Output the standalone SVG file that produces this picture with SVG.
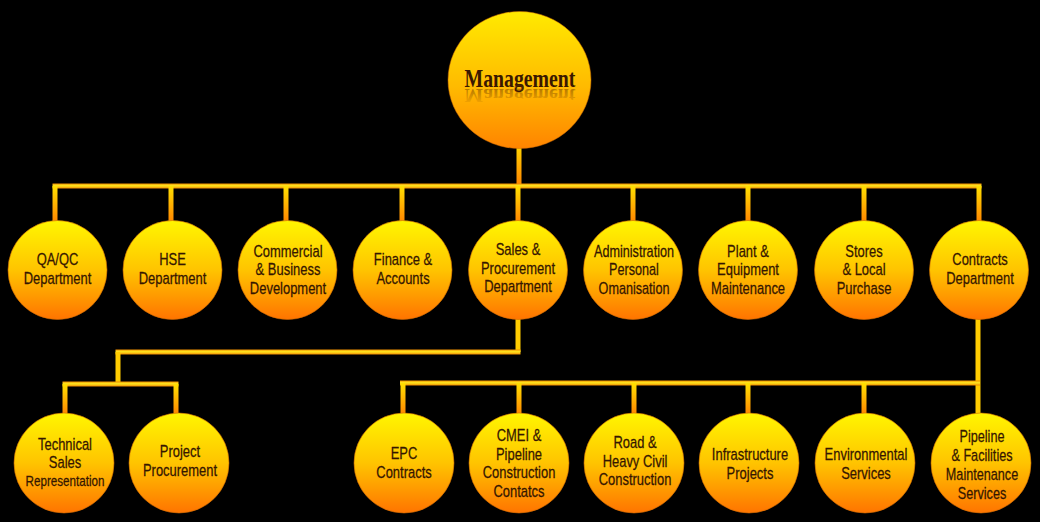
<svg xmlns="http://www.w3.org/2000/svg" width="1040" height="522" viewBox="0 0 1040 522">
  <defs>
    <linearGradient id="ball" x1="0" y1="0" x2="0" y2="1">
      <stop offset="0" stop-color="#fff600"/>
      <stop offset="0.5" stop-color="#ffc400"/>
      <stop offset="1" stop-color="#ff7400"/>
    </linearGradient>
    <linearGradient id="bigBall" x1="0" y1="0" x2="0" y2="1">
      <stop offset="0" stop-color="#ffea00"/>
      <stop offset="0.55" stop-color="#ffba00"/>
      <stop offset="1" stop-color="#ff8400"/>
    </linearGradient>
    <linearGradient id="hbar" x1="0" y1="0" x2="0" y2="1">
      <stop offset="0" stop-color="#f09000"/>
      <stop offset="0.45" stop-color="#ffe820"/>
      <stop offset="1" stop-color="#f08a00"/>
    </linearGradient>
    <linearGradient id="drop" x1="0" y1="0" x2="0" y2="1">
      <stop offset="0" stop-color="#ffe000"/>
      <stop offset="1" stop-color="#ff8200"/>
    </linearGradient>
    <linearGradient id="reflect" x1="0" y1="0" x2="0" y2="1">
      <stop offset="0" stop-color="#5a2a00" stop-opacity="0"/>
      <stop offset="1" stop-color="#5a2a00" stop-opacity="0.55"/>
    </linearGradient>
  </defs>
  <style>
    .node { fill: url(#ball); stroke: #d06a00; stroke-width: 1; stroke-opacity: 0.6; }
    .lbl { font-family: 'Liberation Sans', Arial, sans-serif; font-size: 15.8px; fill: #351600; stroke: #351600; stroke-width: 0.25; text-anchor: middle; }
    .sm { font-size: 14.2px; }
    .h { fill: url(#hbar); }
    .v { fill: url(#drop); }
    .title { font-family: 'Liberation Serif', 'DejaVu Serif', serif; font-weight: bold; font-size: 26px; text-anchor: middle; }
  </style>

  <rect width="1040" height="522" fill="#000"/>

  <!-- connectors -->
  <g id="connectors">
    <!-- management to top bus -->
    <rect class="v" x="516.5" y="140" width="5" height="46"/>
    <rect class="h" x="52.5" y="183.5" width="929" height="5"/>
    <!-- drops to department row -->
    <rect class="v" x="52.5" y="186" width="5" height="37"/>
    <rect class="v" x="168.5" y="186" width="5" height="37"/>
    <rect class="v" x="283.5" y="186" width="5" height="37"/>
    <rect class="v" x="399.5" y="186" width="5" height="37"/>
    <rect class="v" x="515.5" y="186" width="5" height="37"/>
    <rect class="v" x="630.5" y="186" width="5" height="37"/>
    <rect class="v" x="745.5" y="186" width="5" height="37"/>
    <rect class="v" x="861.5" y="186" width="5" height="37"/>
    <rect class="v" x="976.5" y="186" width="5" height="37"/>
    <!-- sales branch -->
    <rect class="h" x="515.5" y="310" width="5" height="42" style="fill:#ffcc00"/>
    <rect class="h" x="115.5" y="349.5" width="405" height="5"/>
    <rect class="h" x="115.5" y="352" width="5" height="32" style="fill:#ffcc00"/>
    <rect class="h" x="62.5" y="381.5" width="116" height="5"/>
    <rect class="v" x="62.5" y="384" width="5" height="32"/>
    <rect class="v" x="173.5" y="384" width="5" height="32"/>
    <!-- contracts branch -->
    <rect class="h" x="975.5" y="310" width="5" height="106" style="fill:#ffcc00"/>
    <rect class="h" x="400" y="380.5" width="580" height="5"/>
    <rect class="v" x="400.5" y="383" width="5" height="33"/>
    <rect class="v" x="516.5" y="383" width="5" height="33"/>
    <rect class="v" x="631.5" y="383" width="5" height="33"/>
    <rect class="v" x="745.5" y="383" width="5" height="33"/>
    <rect class="v" x="861.5" y="383" width="5" height="33"/>
  </g>

  <!-- top node -->
  <g id="management">
    <ellipse cx="519.5" cy="80" rx="71.5" ry="68.5" fill="url(#bigBall)" stroke="#d06a00" stroke-opacity="0.5"/>
    <text class="title" transform="translate(520,87) scale(0.76,1)" x="0" y="0" fill="#3a1800">Management</text>
    <text class="title" transform="translate(520,89) scale(0.76,-0.7)" x="0" y="0" fill="url(#reflect)">Management</text>
  </g>

  <!-- department row -->
  <g id="qaqc">
    <circle class="node" cx="57.5" cy="270" r="49.5"/>
    <text class="lbl" transform="translate(57.5,0) scale(0.82,1)"><tspan x="0" y="265">QA/QC</tspan><tspan x="0" y="284">Department</tspan></text>
  </g>
  <g id="hse">
    <circle class="node" cx="172.5" cy="270" r="49.5"/>
    <text class="lbl" transform="translate(172.5,0) scale(0.82,1)"><tspan x="0" y="265">HSE</tspan><tspan x="0" y="284">Department</tspan></text>
  </g>
  <g id="commercial">
    <circle class="node" cx="287.5" cy="270" r="49.5"/>
    <text class="lbl" transform="translate(288,0) scale(0.82,1)"><tspan x="0" y="257">Commercial</tspan><tspan x="0" y="275.5">&amp; Business</tspan><tspan x="0" y="294">Development</tspan></text>
  </g>
  <g id="finance">
    <circle class="node" cx="402.5" cy="270" r="49.5"/>
    <text class="lbl" transform="translate(403,0) scale(0.82,1)"><tspan x="0" y="265">Finance &amp;</tspan><tspan x="0" y="284">Accounts</tspan></text>
  </g>
  <g id="sales">
    <circle class="node" cx="518" cy="270" r="49.5"/>
    <text class="lbl" transform="translate(518,0) scale(0.82,1)"><tspan x="0" y="255">Sales &amp;</tspan><tspan x="0" y="274">Procurement</tspan><tspan x="0" y="292.5">Department</tspan></text>
  </g>
  <g id="administration">
    <circle class="node" cx="633" cy="270" r="49.5"/>
    <text class="lbl" transform="translate(634,0) scale(0.8,1)"><tspan x="0" y="257">Administration</tspan><tspan x="0" y="275.5">Personal</tspan><tspan x="0" y="294">Omanisation</tspan></text>
  </g>
  <g id="plant">
    <circle class="node" cx="748" cy="270" r="49.5"/>
    <text class="lbl" transform="translate(748,0) scale(0.82,1)"><tspan x="0" y="257">Plant &amp;</tspan><tspan x="0" y="275.5">Equipment</tspan><tspan x="0" y="294">Maintenance</tspan></text>
  </g>
  <g id="stores">
    <circle class="node" cx="864" cy="270" r="49.5"/>
    <text class="lbl" transform="translate(864,0) scale(0.82,1)"><tspan x="0" y="257">Stores</tspan><tspan x="0" y="275.5">&amp; Local</tspan><tspan x="0" y="294">Purchase</tspan></text>
  </g>
  <g id="contracts">
    <circle class="node" cx="979" cy="270" r="49.5"/>
    <text class="lbl" transform="translate(980,0) scale(0.82,1)"><tspan x="0" y="265">Contracts</tspan><tspan x="0" y="284">Department</tspan></text>
  </g>

  <!-- sales sub-units -->
  <g id="technical-sales">
    <circle class="node" cx="64" cy="463" r="50"/>
    <text class="lbl" transform="translate(65,0) scale(0.82,1)"><tspan x="0" y="450">Technical</tspan><tspan x="0" y="468.5">Sales</tspan><tspan class="sm" x="0" y="486">Representation</tspan></text>
  </g>
  <g id="project-procurement">
    <circle class="node" cx="179" cy="463" r="50"/>
    <text class="lbl" transform="translate(180,0) scale(0.82,1)"><tspan x="0" y="457">Project</tspan><tspan x="0" y="476">Procurement</tspan></text>
  </g>

  <!-- contracts sub-units -->
  <g id="epc">
    <circle class="node" cx="404" cy="463" r="50"/>
    <text class="lbl" transform="translate(404,0) scale(0.82,1)"><tspan x="0" y="459">EPC</tspan><tspan x="0" y="478">Contracts</tspan></text>
  </g>
  <g id="cmei">
    <circle class="node" cx="519" cy="463" r="50"/>
    <text class="lbl" transform="translate(519,0) scale(0.82,1)"><tspan x="0" y="441">CMEI &amp;</tspan><tspan x="0" y="460">Pipeline</tspan><tspan x="0" y="478.5">Construction</tspan><tspan x="0" y="497">Contatcs</tspan></text>
  </g>
  <g id="road">
    <circle class="node" cx="634" cy="463" r="50"/>
    <text class="lbl" transform="translate(635,0) scale(0.82,1)"><tspan x="0" y="448">Road &amp;</tspan><tspan x="0" y="467">Heavy Civil</tspan><tspan x="0" y="485.5">Construction</tspan></text>
  </g>
  <g id="infrastructure">
    <circle class="node" cx="749" cy="463" r="50"/>
    <text class="lbl" transform="translate(750,0) scale(0.82,1)"><tspan x="0" y="460">Infrastructure</tspan><tspan x="0" y="479">Projects</tspan></text>
  </g>
  <g id="environmental">
    <circle class="node" cx="865" cy="463" r="50"/>
    <text class="lbl" transform="translate(866,0) scale(0.82,1)"><tspan x="0" y="460">Environmental</tspan><tspan x="0" y="479">Services</tspan></text>
  </g>
  <g id="pipeline">
    <circle class="node" cx="981" cy="463" r="50"/>
    <text class="lbl" transform="translate(982,0) scale(0.8,1)"><tspan x="0" y="442">Pipeline</tspan><tspan x="0" y="461">&amp; Facilities</tspan><tspan x="0" y="480">Maintenance</tspan><tspan x="0" y="499">Services</tspan></text>
  </g>
</svg>
